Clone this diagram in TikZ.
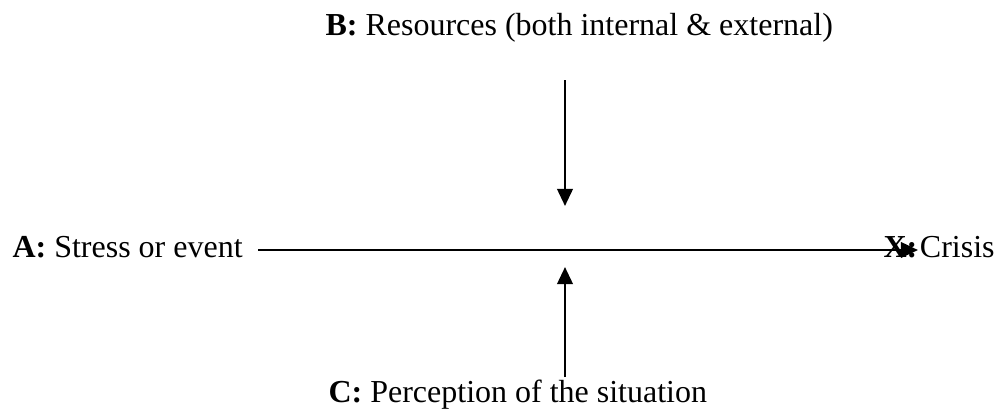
\documentclass[tikz,border=0pt]{standalone}
\usepackage{fontspec}
\setmainfont{Liberation Serif}
\usetikzlibrary{arrows.meta}
\begin{document}
\begin{tikzpicture}[x=0.375pt,y=-0.375pt,
  lbl/.style={anchor=base west,inner sep=0pt,font=\fontsize{12}{14}\selectfont},
  conn/.style={line width=0.95pt,-{Triangle[width=5.8pt,length=6.4pt]}}]
\useasboundingbox (0,0) rectangle (1002,410);
\node[lbl] (A) at (12,257) {\textbf{A:} Stress or event};
\node[lbl] (B) at (325,35) {\textbf{B:} Resources (both internal \& external)};
\node[lbl] (C) at (328,402) {\textbf{C:} Perception of the situation};
\node[lbl] (X) at (883,257) {\textbf{X:}\kern1pt Crisis};
\coordinate (hs) at (258,250);
\coordinate (he) at (918,250);
\coordinate (bs) at (565,80);
\coordinate (be) at (565,206);
\coordinate (cs) at (565,377);
\coordinate (ce) at (565,267);
\draw[conn] (hs) -- (he);
\draw[conn] (bs) -- (be);
\draw[conn] (cs) -- (ce);
\end{tikzpicture}
\end{document}
